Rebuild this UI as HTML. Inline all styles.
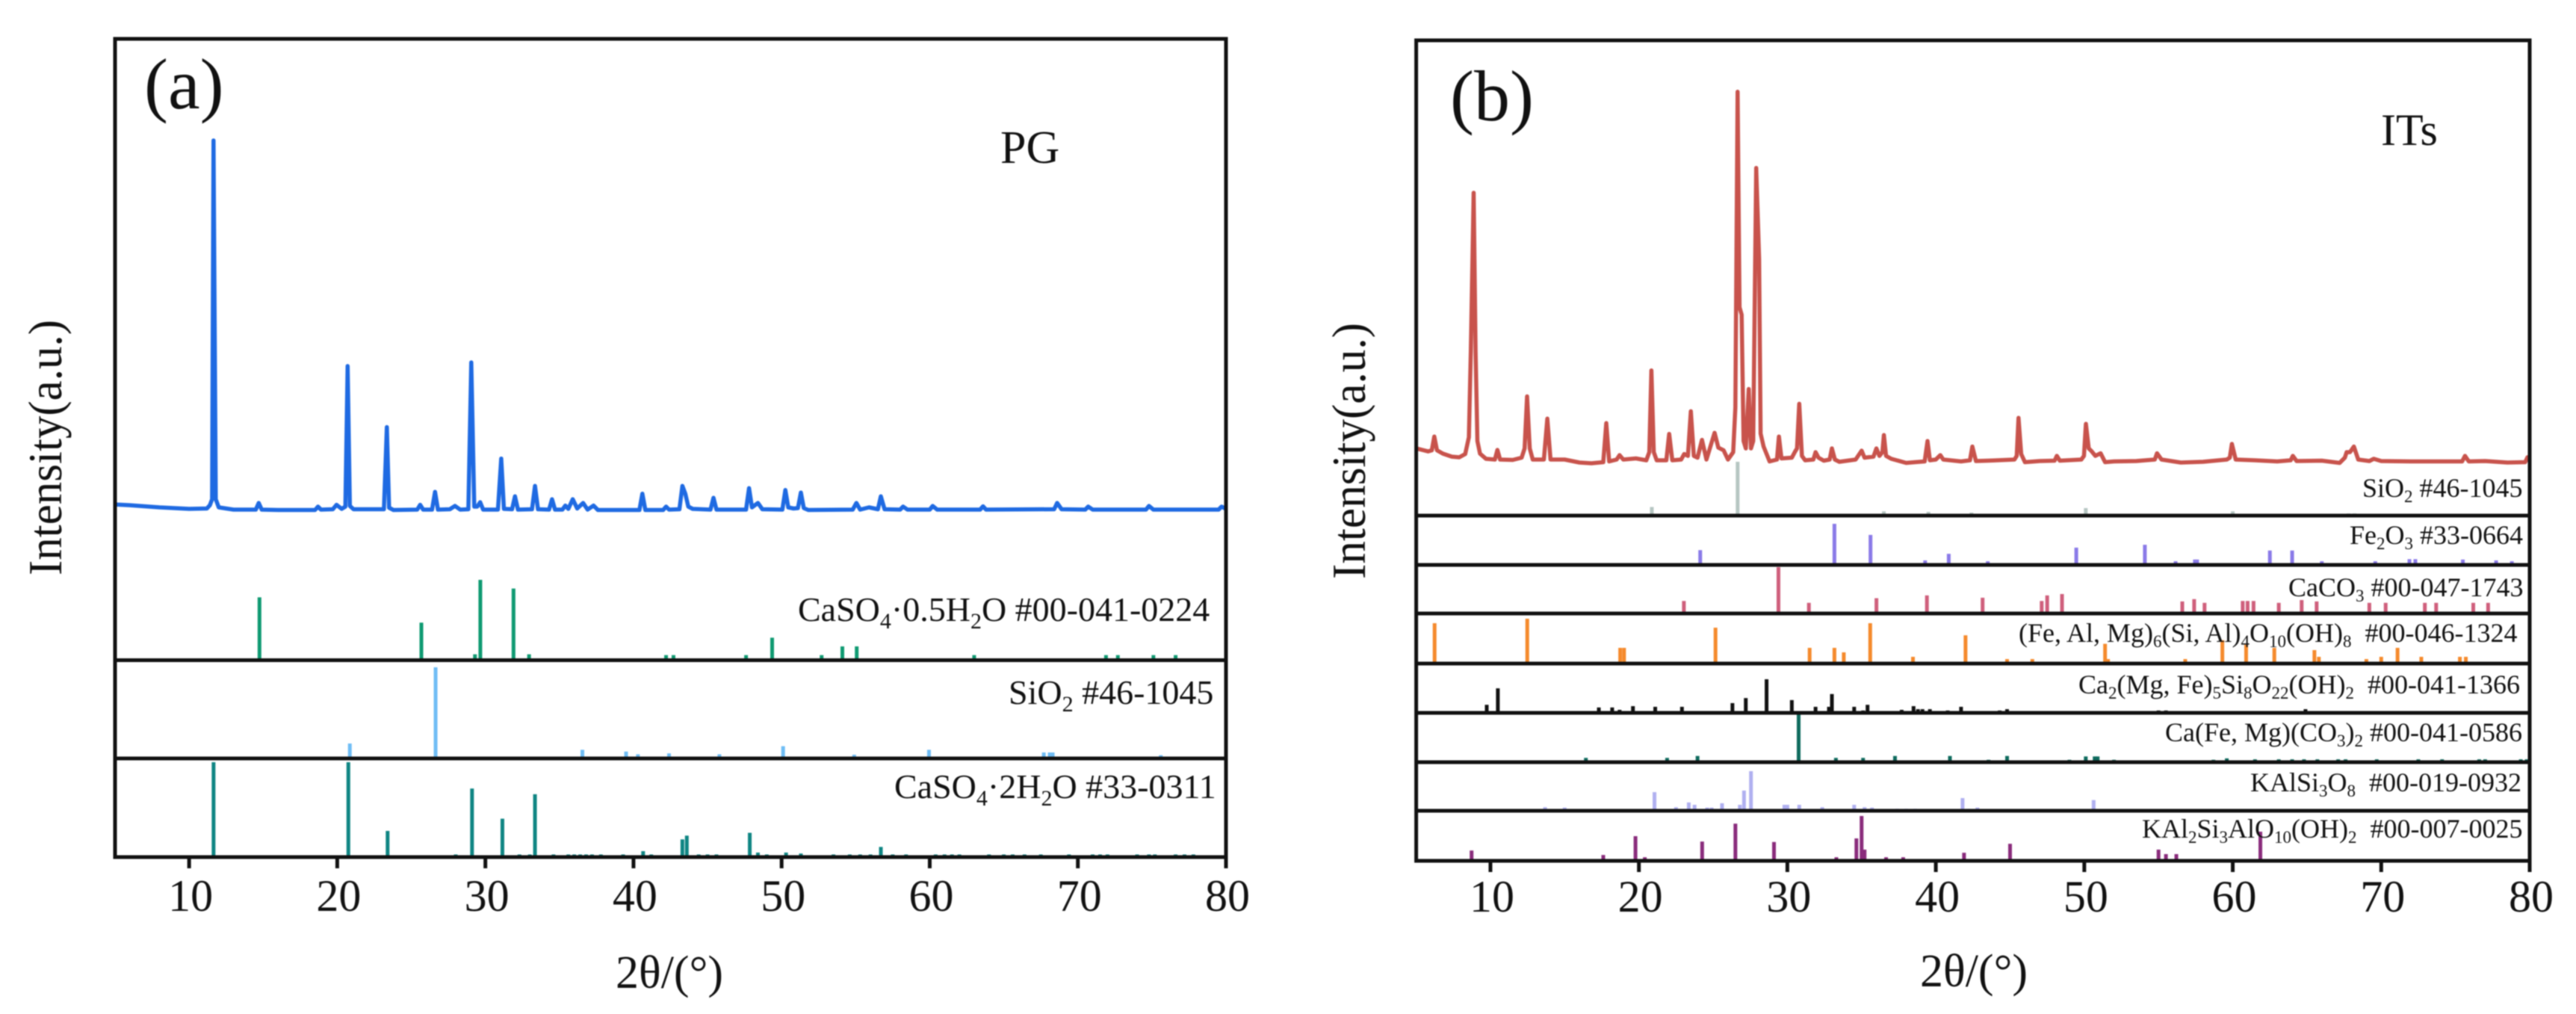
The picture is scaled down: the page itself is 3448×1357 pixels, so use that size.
<!DOCTYPE html>
<html>
<head>
<meta charset="utf-8">
<title>XRD patterns of PG and ITs</title>
<style>
html,body{margin:0;padding:0;background:#fff;}
svg{display:block;filter:blur(0.8px);}
text{font-family:"Liberation Serif","DejaVu Serif",serif;fill:#111;}
.lab{font-size:46px;}
.labb{font-size:36px;}
</style>
</head>
<body>
<svg id="chart" width="3448" height="1357" viewBox="0 0 3448 1357" xmlns="http://www.w3.org/2000/svg">
<rect width="3448" height="1357" fill="#fff"/>
<g id="layerA"></g>
<g id="layerB"></g>

<text x="193" y="145" font-size="96">(a)</text>
<text x="1339" y="218" font-size="62">PG</text>
<text transform="translate(82,770) rotate(-90)" x="0" y="0" font-size="63" textLength="342" lengthAdjust="spacingAndGlyphs">Intensity(a.u.)</text>
<text x="824" y="1322" font-size="62">2θ/(°)</text>

<text class="lab" x="1068" y="831">CaSO<tspan dy="10" font-size="30">4</tspan><tspan dy="-10">·0.5H</tspan><tspan dy="10" font-size="30">2</tspan><tspan dy="-10">O #00-041-0224</tspan></text>
<text class="lab" x="1350" y="942">SiO<tspan dy="10" font-size="30">2</tspan><tspan dy="-10"> #46-1045</tspan></text>
<text class="lab" x="1197" y="1068">CaSO<tspan dy="10" font-size="30">4</tspan><tspan dy="-10">·2H</tspan><tspan dy="10" font-size="30">2</tspan><tspan dy="-10">O #33-0311</tspan></text>

<text x="1941" y="161" font-size="96">(b)</text>
<text x="3187" y="194" font-size="60">ITs</text>
<text transform="translate(1827,775) rotate(-90)" x="0" y="0" font-size="63" textLength="343" lengthAdjust="spacingAndGlyphs">Intensity(a.u.)</text>
<text x="2570" y="1320" font-size="62">2θ/(°)</text>

<text class="labb" x="3162" y="665">SiO<tspan dy="7" font-size="23">2</tspan><tspan dy="-7"> #46-1045</tspan></text>
<text class="labb" x="3145" y="728">Fe<tspan dy="7" font-size="23">2</tspan><tspan dy="-7">O</tspan><tspan dy="7" font-size="23">3</tspan><tspan dy="-7"> #33-0664</tspan></text>
<text class="labb" x="3063" y="798">CaCO<tspan dy="7" font-size="23">3</tspan><tspan dy="-7"> #00-047-1743</tspan></text>
<text class="labb" x="2702" y="859">(Fe, Al, Mg)<tspan dy="7" font-size="23">6</tspan><tspan dy="-7">(Si, Al)</tspan><tspan dy="7" font-size="23">4</tspan><tspan dy="-7">O</tspan><tspan dy="7" font-size="23">10</tspan><tspan dy="-7">(OH)</tspan><tspan dy="7" font-size="23">8</tspan><tspan dy="-7">&#160; #00-046-1324</tspan></text>
<text class="labb" x="2782" y="928">Ca<tspan dy="7" font-size="23">2</tspan><tspan dy="-7">(Mg, Fe)</tspan><tspan dy="7" font-size="23">5</tspan><tspan dy="-7">Si</tspan><tspan dy="7" font-size="23">8</tspan><tspan dy="-7">O</tspan><tspan dy="7" font-size="23">22</tspan><tspan dy="-7">(OH)</tspan><tspan dy="7" font-size="23">2</tspan><tspan dy="-7">&#160; #00-041-1366</tspan></text>
<text class="labb" x="2898" y="992">Ca(Fe, Mg)(CO<tspan dy="7" font-size="23">3</tspan><tspan dy="-7">)</tspan><tspan dy="7" font-size="23">2</tspan><tspan dy="-7"> #00-041-0586</tspan></text>
<text class="labb" x="3012" y="1059">KAlSi<tspan dy="7" font-size="23">3</tspan><tspan dy="-7">O</tspan><tspan dy="7" font-size="23">8</tspan><tspan dy="-7">&#160; #00-019-0932</tspan></text>
<text class="labb" x="2867" y="1121">KAl<tspan dy="7" font-size="23">2</tspan><tspan dy="-7">Si</tspan><tspan dy="7" font-size="23">3</tspan><tspan dy="-7">AlO</tspan><tspan dy="7" font-size="23">10</tspan><tspan dy="-7">(OH)</tspan><tspan dy="7" font-size="23">2</tspan><tspan dy="-7">&#160; #00-007-0025</tspan></text>
</svg>

<script>
// ---------- axis ticks ----------
const tickValues = [10, 20, 30, 40, 50, 60, 70, 80];
const tickLabels = ["10", "20", "30", "40", "50", "60", "70", "80"];

// ---------- measured pattern, panel (a) PG ----------
const pgAngles = [
5,6,8,10,11.2,11.4,11.55,11.65,11.8,12,13,
14.5,14.7,14.9,16,18.5,18.7,18.9,19.7,19.95,20.3,
20.55,20.7,20.85,21.1,23.15,23.35,23.5,23.8,25.4,25.6,25.8,
26.4,26.6,26.8,27.6,27.95,28.3,28.85,29.05,29.25,29.45,29.65,29.85,
30.85,31.07,31.25,31.8,32,32.2,33.15,33.35,33.55,34.3,34.5,34.7,
35.2,35.4,35.6,35.9,36.2,36.6,36.9,37.3,37.6,40.4,40.6,40.8,
42,42.2,42.4,43.1,43.3,43.5,43.7,44,45.2,45.4,45.6,
47.6,47.8,48,48.4,48.7,50.05,50.25,50.45,50.8,51.1,51.3,51.5,51.8,
54.8,55.05,55.3,55.9,56.5,56.7,56.95,58,58.2,58.5,
60,60.2,60.5,63.4,63.6,63.8,68.4,68.6,68.9,
70.5,70.7,71,74.6,74.8,75.1,79.5,79.7,80];
const pgIntensity = [
1.6,1.4,0.8,0.4,0.5,1.4,3,100,3,0.8,0.2,
0.2,2,0.2,0.1,0.1,1,0.2,0.3,1.5,0.4,
1,39,1.2,0.3,0.3,22.5,0.7,0.1,0.2,1.5,0.2,
0.2,5,0.2,0.3,1.2,0.2,0.3,40,1,1,2.2,0.2,
0.2,14,0.4,0.3,3.8,0.2,0.3,6.6,0.3,0.2,3,0.2,
0.2,1.3,0.4,3,0.5,2,0.2,1.3,0.1,0.1,4.5,0.1,
0.1,1,0.2,0.3,6.6,4.5,1,0.4,0.2,3.4,0.2,
0.2,6,0.8,2,0.3,0.2,5.5,0.8,0.5,0.6,4.8,0.6,0.1,
0.2,2,0.2,0.8,0.3,3.8,0.3,0.2,1,0.2,
0.2,1.2,0.2,0.2,1.1,0.2,0.3,2,0.3,
0.2,1,0.2,0.2,1.2,0.2,0.2,1,0.4];

// ---------- reference sticks, panel (a) ----------
const hemihydrateAngles = [14.75,25.68,29.3,29.66,31.9,32.95,42.2,42.7,47.6,49.36,52.7,54.1,55.07,63,71.9,72.7,75.1,76.6];
const hemihydrateIntensity = [78,46,6,100,89,6,5,5,5,27,5,16,16,5,5,5,5,5];
const quartzAAngles = [20.85,26.64,36.55,39.5,40.3,42.4,45.8,50.1,54.9,59.95,67.7,68.1,68.3,75.6];
const quartzAIntensity = [15,100,8,6,3,4,3,12,2.5,8,5,5,5,2];
const dihydrateAngles = [11.65,20.75,23.4,28,29.1,31.15,32.3,33,33.35,34.6,35.6,36,36.4,36.8,37.2,37.8,39.3,40.65,41.2,43.3,43.6,44.4,45,45.6,47.85,48.4,49,50.3,51.3,53.5,54.6,55.3,56,56.7,57.5,58.4,60.4,61,61.5,62,64,65,65.6,66.4,67.5,69.4,71,71.5,72,74,74.8,75.2,76.6,77.2,77.8];
const dihydrateIntensity = [100,100,27,2,72,40,2,2,66,2,2,2,2,2,2,2,2,5.5,2,18,22,2,2,2,25,4,2,4,3,2,2,2,2,10,2,2,2,2,2,2,2,2,2,2,2,2,2,2,2,2,2,2,2,2,2];

// ---------- measured pattern, panel (b) ITs ----------
const itsAngles = [
5,5.8,6.05,6.22,6.4,6.8,7.4,7.9,8.3,8.55,8.68,8.87,9,9.12,9.3,9.7,10.3,10.47,10.65,11.5,
12.1,12.3,12.47,12.65,12.85,13.6,13.83,14.05,15,16,16.8,17.6,17.8,18,18.5,18.7,18.95,19.8,
20.5,20.7,20.84,21,21.2,21.85,22.04,22.25,22.85,23.05,23.3,23.5,23.7,23.95,24.25,24.55,25.1,25.35,25.7,26,
26.35,26.5,26.65,26.78,26.92,27.05,27.2,27.4,27.55,27.7,27.9,28.1,28.2,28.4,28.8,29.3,29.43,29.6,
30.3,30.5,30.65,30.8,30.98,31.2,31.75,31.9,32.1,32.45,32.85,33,33.2,33.5,34.6,35,35.2,35.8,36,36.2,36.4,36.5,36.65,37,
38,38.6,39.25,39.44,39.6,40,40.3,40.5,41.7,42.3,42.46,42.7,43.5,45.3,45.45,45.57,45.75,46,47,48,48.15,48.35,
49.8,49.98,50.11,50.3,50.5,50.75,51.1,51.4,52,53.5,54.75,54.9,55.2,56.5,58,59.6,59.8,59.94,60.2,61.5,63,63.9,64.05,64.3,
66,67.2,67.55,67.67,67.9,68.16,68.45,69.2,69.5,70,72,75.45,75.64,75.9,77,78.5,79.7,79.85,80];
const itsIntensity = [
4,3.2,3.5,7.2,3.5,2.6,1.8,1.6,2.5,7,30,72.8,30,6,2.6,1.2,1,3.6,1,0.9,
1.5,4,18,4,1,1,12,1,1,0.2,0,0.3,10.8,0.5,1,2.2,1,1.3,
0.8,3,25,3,0.8,0.8,7.9,0.8,1,2.5,2,14,2,1.5,6.3,1,8.2,4.2,3.5,1,
3,15,100,42,40,6,4,20,4,6,79.5,55,8,4.5,0.5,1,7.2,1.3,
1.5,3,4,16,2,0.8,1,3,1.5,0.7,1,4,1,0.4,1,3.4,1.5,1.8,4,2,3,7.6,2,1.2,
0.1,0.3,0.5,6,0.8,1,2.2,1,0.5,0.8,4.5,0.6,0.7,1,2,12.2,2.5,0.3,0.6,0.7,2,0.7,
1,2,10.6,4,3.2,2,2.7,0.3,0.5,0.6,1,2.7,1,0.2,0.4,1,1.5,5.2,1,0.8,0.5,0.8,2,0.6,
0.7,0.1,1.5,3,3,4.5,1,0.6,1.2,0.6,0.5,0.5,2,0.5,0.6,0.2,0.3,1.6,1.8];

// ---------- reference sticks, panel (b) ----------
const quartzBAngles = [20.87,26.65,36.5,39.5,40.3,42.4,45.8,50.1,54.9,60,67.8,68.2];
const quartzBIntensity = [16,100,8,7,3.5,5.5,2.8,14,2.8,8,4,4];
const hematiteAngles = [24.13,33.17,35.6,39.28,40.87,43.5,49.46,54.08,56.15,57.45,57.6,62.5,64,66,69.6,71.9,72.3,75.5,77.74,78.8];
const hematiteIntensity = [36,100,73,11,27,9,42,49,9,13,13,35,35,9,9,14,14,13,11,9];
const calciteAngles = [23.03,29.4,31.45,36,39.4,43.15,47.13,47.5,48.5,56.6,57.4,58.1,60.67,61,61.4,63.1,64.64,65.65,69.2,70.3,72.94,73.7,76.2,77.2];
const calciteIntensity = [27,100,23,33,39,34,27,39,42,26,31,23,27,27,27,23,29,26,23,23,23,23,23,23];
const chloriteAngles = [6.24,12.48,18.74,19,25.16,31.5,33.17,33.8,35.58,38.46,42,44.8,46.5,51.4,51.6,56.8,59.3,60.9,62.8,65.5,65.8,69,70,71.1,72.7,75.3,75.7];
const chloriteIntensity = [90,100,35,35,80,35,35,25,90,15,63,10,10,44,10,10,52,42,35,30,15,10,15,35,15,15,15];
const amphiboleAngles = [9.75,10.5,17.3,18.2,18.7,19.6,21.1,22.2,22.9,26.3,27.2,28.6,29.5,30.3,31.9,32.8,33,34.5,35.1,35.4,37.7,38.5,38.8,39.1,39.6,40.8,41.7,44.3,44.8,45.5,46,46.5,47.2,48,49,54,55,55.5,56,57,58,59,60,61,64.9];
const amphiboleIntensity = [24,73,16,16,9,20,18,4,18,29,44,100,4,38,18,18,56,18,7,24,9,20,11,11,11,7,18,7,11,4,4,4,4,4,4,4,7,7,4,4,4,4,4,4,11];
const ankeriteAngles = [16.43,21.9,23.95,30.76,33.27,35.1,37.25,40.95,43.55,44.8,49,50.1,50.7,50.9,52,58.7,59.6,61.5,63.1,64,64.8,65.7,67.1,67.6,69.7,72.5,74.1,76.6,77,79.4,79.8];
const ankeriteIntensity = [9,9,13,100,9,9,13,13,5,13,5,12,12,12,5,5,8,6,6,6,6,6,6,6,6,6,6,6,6,6,6];
const feldsparAngles = [13.68,15,19.3,21.05,22.5,23.36,23.75,24.6,24.9,25.6,26.8,27.08,27.55,29.8,30,30.8,32.35,34.5,35.2,35.7,37.4,38,38.6,39.5,40.95,41.8,42.2,42.8,43.6,44,45,46,47,48,49,49.7,50.2,50.63,51,51.5,52,53,54,55,56];
const feldsparIntensity = [9,8,3,47,9,21,15,8,8,19,15,51,100,15,15,15,9,15,9,8,5,5,5,4,4,32,5,8,4,4,4,4,4,4,4,4,4,27,4,4,4,4,4,4,4];
const muscoviteAngles = [8.73,17.6,19.77,20.4,21.6,24.26,26.5,29.1,30.5,33.3,34.65,35,35.2,36.65,37.8,40.2,41.2,41.9,42.85,45,46.35,47.85,55,55.5,56.2,61.2,61.86];
const muscoviteIntensity = [23,13,55,8,3,43,83,42,3,8,50,100,25,8,8,4,4,18,3,38,3,3,25,15,15,3,65];

// ---------- axis functions ----------
function xScaleA(a){ return 154 + (a - 5) * (1641 - 154) / 75; }
function xScaleB(a){ return 1895.6 + (a - 5) * (3386 - 1895.6) / 75; }
function yScaleA(v){ return 683 - v * (683 - 188) / 100; }
function yScaleB(v){ return 620 - v * (620 - 122.8) / 100; }

const NS = 'http://www.w3.org/2000/svg';
function mk(parent, tag, props){
  const el = document.createElementNS(NS, tag);
  for (const k in props) el.setAttribute(k, props[k]);
  parent.appendChild(el);
  return el;
}

function drawSticks(layer, xScale, baseY, fullHeight, color, angles, values, name){
  const g = mk(layer, 'g', {});
  
  
  angles.forEach(function(a, i){
    const s = mk(g, 'line', {x1: xScale(a), x2: xScale(a), y1: baseY, y2: baseY - values[i] / 100 * fullHeight, stroke: color, 'stroke-width': 5});
    
    
  });
}

function drawSpectrum(layer, xScale, yScale, angles, values, color, width, name){
  let d = '';
  angles.forEach(function(a, i){
    d += (i ? 'L' : 'M') + xScale(a).toFixed(1) + ' ' + yScale(values[i]).toFixed(1);
  });
  const p = mk(layer, 'path', {d: d, fill: 'none', stroke: color, 'stroke-width': width, 'stroke-linejoin': 'round'});
  
  
}

function drawAxes(layer, xScale, left, right, top, bottom, dividers, labelY, prefix){
  const frame = mk(layer, 'rect', {x: left, y: top, width: right - left, height: bottom - top, fill: 'none', stroke: '#111', 'stroke-width': 5});
  
  
  dividers.forEach(function(y){
    const l = mk(layer, 'line', {x1: left, x2: right, y1: y, y2: y, stroke: '#111', 'stroke-width': 5});
    
    
  });
  tickValues.forEach(function(t, i){
    const x = xScale(t);
    const tick = mk(layer, 'line', {x1: x, x2: x, y1: bottom, y2: bottom + 15, stroke: '#111', 'stroke-width': 5});
    
    
    const lab = mk(layer, 'text', {x: x + 2, y: labelY, 'text-anchor': 'middle', 'font-size': 60});
    lab.textContent = tickLabels[i];
    
    
  });
}

const layerA = document.getElementById('layerA');
const layerB = document.getElementById('layerB');

// panel (a)
drawSticks(layerA, xScaleA, 882, 106, '#0f9a72', hemihydrateAngles, hemihydrateIntensity, 'hemihydrate-sticks');
drawSticks(layerA, xScaleA, 1013, 120, '#6fbdf5', quartzAAngles, quartzAIntensity, 'quartz-a-sticks');
drawSticks(layerA, xScaleA, 1146, 126, '#0f8583', dihydrateAngles, dihydrateIntensity, 'dihydrate-sticks');
drawSpectrum(layerA, xScaleA, yScaleA, pgAngles, pgIntensity, '#1f6ae2', 5.5, 'pg-pattern');
drawAxes(layerA, xScaleA, 154, 1641, 52, 1147, [883.5, 1015], 1219, 'panel-a');

// panel (b)
drawSticks(layerB, xScaleB, 690, 72, '#b6c6c2', quartzBAngles, quartzBIntensity, 'quartz-b-sticks');
drawSticks(layerB, xScaleB, 756, 55, '#8a7ae8', hematiteAngles, hematiteIntensity, 'hematite-sticks');
drawSticks(layerB, xScaleB, 821, 62, '#cf5f7c', calciteAngles, calciteIntensity, 'calcite-sticks');
drawSticks(layerB, xScaleB, 888, 60, '#f58a2c', chloriteAngles, chloriteIntensity, 'chlorite-sticks');
drawSticks(layerB, xScaleB, 954, 45, '#111111', amphiboleAngles, amphiboleIntensity, 'amphibole-sticks');
drawSticks(layerB, xScaleB, 1020, 64, '#0f6b5e', ankeriteAngles, ankeriteIntensity, 'ankerite-sticks');
drawSticks(layerB, xScaleB, 1085, 53, '#b0b0f0', feldsparAngles, feldsparIntensity, 'feldspar-sticks');
drawSticks(layerB, xScaleB, 1152, 60, '#8a2c7c', muscoviteAngles, muscoviteIntensity, 'muscovite-sticks');
drawSpectrum(layerB, xScaleB, yScaleB, itsAngles, itsIntensity, '#c8534c', 5.5, 'its-pattern');
drawAxes(layerB, xScaleB, 1895.6, 3386, 54, 1152, [690, 756, 821, 888, 954, 1020, 1085], 1220, 'panel-b');
</script>
</body>
</html>
